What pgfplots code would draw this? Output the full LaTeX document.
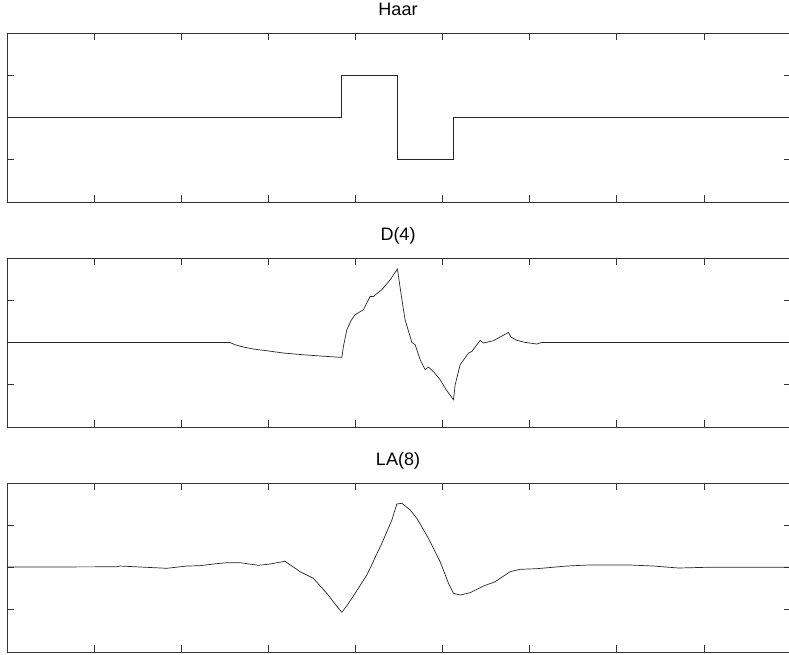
\documentclass[border=0pt]{standalone}
\usepackage{fontspec}
\setmainfont{Liberation Sans}
\usepackage{pgfplots}
\pgfplotsset{compat=1.18}

% shared look of the three wavelet panels
\pgfplotsset{
  wavepanel/.style={
    scale only axis,
    width=784pt, height=169pt,
    anchor=north west,
    xmin=0, xmax=900, ymin=-2, ymax=2,
    xtick={100,200,...,800}, ytick={-1,0,1},
    xticklabel=\empty, yticklabel=\empty,
    tick pos=both, tick align=inside,
    major tick length=7pt,
    axis line style={black!80, line width=0.7pt},
    tick style={black!80, line width=0.7pt},
    title style={at={(0.5,1)}, anchor=base, yshift=12pt, xshift=-1pt,
                 font=\fontsize{18}{20}\selectfont},
  },
  wave/.style={black!85, line width=0.7pt, mark=none},
}

\begin{document}
\begin{tikzpicture}
\useasboundingbox (0,0) rectangle (789pt,-654pt);

% Haar wavelet
\begin{axis}[wavepanel, at={(7pt,-33pt)}, title={Haar}]
\addplot[wave] coordinates {
  (0,0) (384,0) (384,1) (448,1) (448,-1) (512,-1) (512,0) (900,0)
};
\end{axis}

% Daubechies D(4) wavelet
\begin{axis}[wavepanel, at={(7pt,-258pt)}, title={D(4)}]
\addplot[wave] coordinates {
  (0,0) (256,0) (261.8,-0.052) (270,-0.10) (282.8,-0.154) (300,-0.20)
  (317.3,-0.249) (340,-0.29) (360,-0.32) (384.4,-0.353)
  (386.2,-0.092) (390.1,0.303) (395,0.52) (399.6,0.658) (409.2,0.776)
  (416.9,1.091) (420.7,1.091) (430.3,1.250) (439.9,1.486) (448.2,1.740)
  (450.5,1.408) (455.1,0.776) (457.0,0.540) (464.7,0.002) (468.5,-0.052)
  (474.3,-0.407) (480.0,-0.644) (483.8,-0.580) (490,-0.70) (497.2,-0.880)
  (504.1,-1.117) (512.5,-1.354) (514.5,-0.999) (520.2,-0.525)
  (529.8,-0.249) (533.7,-0.211) (543.2,0.050) (547.0,-0.012)
  (558.5,0.043) (575.7,0.239) (578.5,0.130) (585.4,0.050) (594.9,0.002)
  (608.3,-0.036) (614.0,0.002) (635,0) (900,0)
};
\end{axis}

% least asymmetric LA(8) wavelet
\begin{axis}[wavepanel, at={(7pt,-483pt)}, title={LA(8)}]
\addplot[wave] coordinates {
  (0,0.01) (126.3,0.017) (129.8,0.035) (152.7,0.012) (183.4,-0.019)
  (206.4,0.035) (221.6,0.043) (236.9,0.083) (252.3,0.114) (267.6,0.114)
  (288.6,0.052) (302.0,0.083) (319.2,0.147) (336.5,-0.099) (351.7,-0.256)
  (367.1,-0.611) (378,-0.90) (384.4,-1.060) (391,-0.88) (399.6,-0.611)
  (413.1,-0.178) (430.3,0.573) (441.8,1.124) (447.5,1.503) (453.3,1.520)
  (462.8,1.361) (470.5,1.164) (483.8,0.691) (497.2,0.137) (506.8,-0.374)
  (512.5,-0.611) (520.2,-0.651) (531.7,-0.596) (547.0,-0.438)
  (560.4,-0.336) (577.6,-0.099) (589.1,-0.043) (608.3,-0.028)
  (642.7,0.035) (667.5,0.059) (715.4,0.059) (742.2,0.035) (770.9,-0.012)
  (803.5,0.005) (900,0.005)
};
\end{axis}
\end{tikzpicture}
\end{document}
